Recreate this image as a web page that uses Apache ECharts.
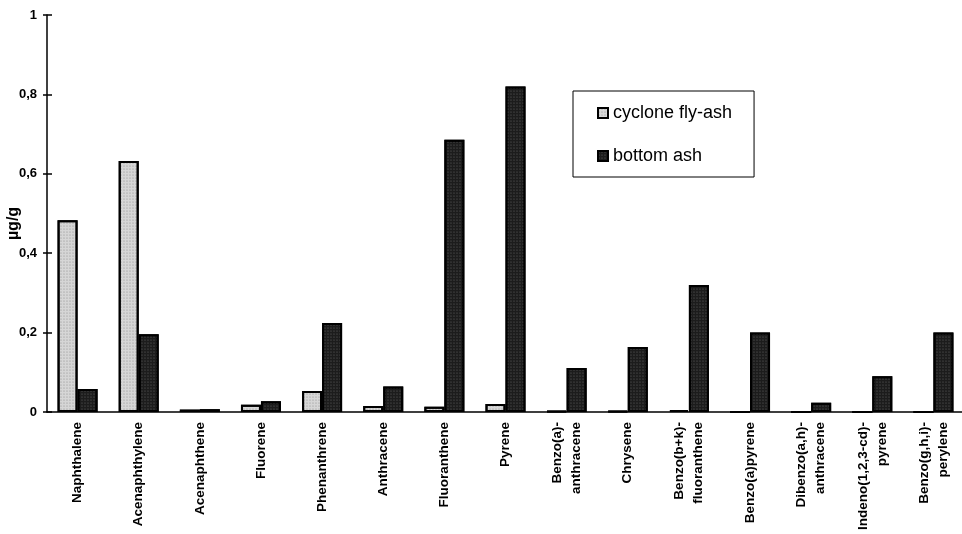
<!DOCTYPE html>
<html>
<head>
<meta charset="utf-8">
<script src="https://cdn.jsdelivr.net/npm/echarts@6/dist/echarts.min.js"></script>
<style>
  html, body { margin: 0; padding: 0; background: #fff; }
  #chart { width: 962px; height: 534px; }
</style>
</head>
<body>
<div id="chart"></div>
<script>
// PAH concentrations (µg/g) in the two ash fractions
const categories = [
  'Naphthalene', 'Acenaphthylene', 'Acenaphthene', 'Fluorene', 'Phenanthrene',
  'Anthracene', 'Fluoranthene', 'Pyrene', 'Benzo(a)-\nanthracene', 'Chrysene',
  'Benzo(b+k)-\nfluoranthene', 'Benzo(a)pyrene', 'Dibenzo(a,h)-\nanthracene',
  'Indeno(1,2,3-cd)-\npyrene', 'Benzo(g,h,i)-\nperylene'
];
const cycloneFlyAsh = [0.483, 0.632, 0.006, 0.018, 0.053, 0.015, 0.013, 0.02, 0.002, 0.002, 0.005, 0, 0, 0, 0];
const bottomAsh = [0.058, 0.196, 0.007, 0.027, 0.224, 0.064, 0.686, 0.82, 0.111, 0.164, 0.32, 0.2, 0.023, 0.09, 0.2];
const yTicks = [0, 0.2, 0.4, 0.6, 0.8, 1];

const chart = echarts.init(document.getElementById('chart'));
const fmt = v => String(v).replace('.', ',');

chart.setOption({
  backgroundColor: '#fff',
  animation: false,
  textStyle: { fontFamily: 'Liberation Sans, Arial, sans-serif', color: '#000' },
  grid: { left: 47, top: 15, bottom: 122, width: 917, containLabel: false, outerBoundsMode: 'none' },
  legend: {
    orient: 'vertical',
    left: 573,
    top: 91,
    padding: [13, 22, 12, 24],
    itemGap: 25,
    itemWidth: 10,
    itemHeight: 10,
    icon: 'rect',
    borderColor: '#000',
    borderWidth: 1,
    backgroundColor: '#fff',
    textStyle: { fontSize: 18, color: '#000', fontFamily: 'Liberation Sans, Arial, sans-serif' },
    data: ['cyclone fly-ash', 'bottom ash']
  },
  xAxis: {
    type: 'category',
    data: categories,
    axisLine: { lineStyle: { color: '#000', width: 1.5 } },
    axisTick: { length: 4, lineStyle: { color: '#000', width: 1 } },
    axisLabel: {
      rotate: 90,
      interval: 0,
      margin: 10,
      fontSize: 13.5,
      fontWeight: 'bold',
      lineHeight: 19,
      color: '#000'
    }
  },
  yAxis: [
    {
      type: 'value',
      min: 0,
      max: 1,
      interval: 0.2,
      name: 'µg/g',
      nameLocation: 'middle',
      nameGap: 25,
      nameMoveOverlap: false,
      nameTextStyle: { fontSize: 16, fontWeight: 'bold', color: '#000', padding: [0, 20, 0, 0] },
      axisLine: { show: true, lineStyle: { color: '#000', width: 1.5 } },
      axisTick: { show: true, length: 4, lineStyle: { color: '#000', width: 1.5 } },
      splitLine: { show: false },
      axisLabel: {
        margin: 10,
        fontSize: 13,
        fontWeight: 'bold',
        color: '#000',
        formatter: v => yTicks.includes(+v.toFixed(1)) ? fmt(+v.toFixed(1)) : ''
      }
    },
    {
      // inner half of the cross-shaped ticks on the value axis
      type: 'value',
      position: 'left',
      min: 0,
      max: 1,
      interval: 0.2,
      axisLine: { show: false },
      axisTick: { show: true, inside: true, length: 5, lineStyle: { color: '#000', width: 1.5 } },
      axisLabel: { show: false },
      splitLine: { show: false }
    }
  ],
  series: [
    {
      name: 'cyclone fly-ash',
      type: 'bar',
      data: cycloneFlyAsh,
      barWidth: 20,
      barGap: '0%',
      itemStyle: {
        color: '#d6d6d6',
        borderColor: '#000',
        borderWidth: 2,
        decal: {
          symbol: 'circle',
          symbolSize: 0.6,
          color: 'rgba(0,0,0,0.35)',
          dashArrayX: [2, 1],
          dashArrayY: [2, 1]
        }
      }
    },
    {
      name: 'bottom ash',
      type: 'bar',
      data: bottomAsh,
      barWidth: 20,
      itemStyle: {
        color: '#1c1c1c',
        borderColor: '#000',
        borderWidth: 2,
        decal: {
          symbol: 'circle',
          symbolSize: 0.6,
          color: 'rgba(200,200,200,0.45)',
          dashArrayX: [2, 1],
          dashArrayY: [2, 1]
        }
      }
    }
  ]
});
</script>
</body>
</html>
